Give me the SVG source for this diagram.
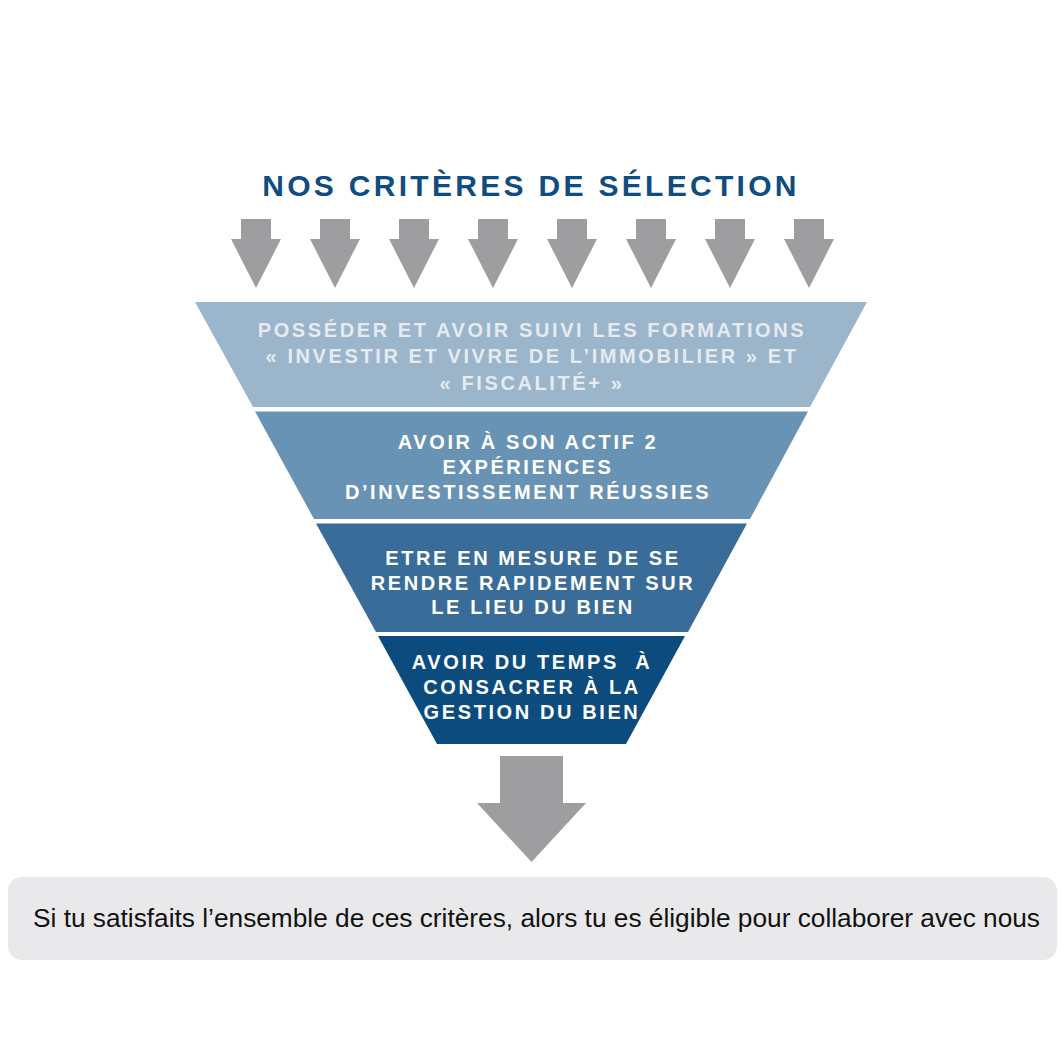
<svg xmlns="http://www.w3.org/2000/svg" xmlns:xlink="http://www.w3.org/1999/xlink" width="1064" height="1064" viewBox="0 0 1064 1064">
<style>
.title{font-family:"Liberation Sans",Arial,sans-serif;font-weight:bold;font-size:30px;letter-spacing:3.3px;fill:#0f4c7f;text-anchor:middle}
.lt{font-family:"Liberation Sans",Arial,sans-serif;font-weight:bold;font-size:20px;letter-spacing:2.6px;text-anchor:middle;fill:#ffffff}
.l1t{fill:#e6ebf0}
.arrow{fill:#9e9da0}
.note{font-family:"Liberation Sans",Arial,sans-serif;font-size:25px;fill:#111111}
</style>
<defs>
<path id="sa" d="M-15,219 H15 V239 H25 L0,288 L-25,239 H-15 Z"/>
</defs>
<rect width="1064" height="1064" fill="#ffffff"/>
<text class="title" x="531" y="196">NOS CRITÈRES DE SÉLECTION</text>
<g id="connectors" class="arrow">
<use xlink:href="#sa" x="256"/>
<use xlink:href="#sa" x="335"/>
<use xlink:href="#sa" x="414"/>
<use xlink:href="#sa" x="493"/>
<use xlink:href="#sa" x="572"/>
<use xlink:href="#sa" x="651"/>
<use xlink:href="#sa" x="730"/>
<use xlink:href="#sa" x="809"/>
<path d="M500,756 H563 V803 H586 L531.5,862 L477,803 H500 Z"/>
</g>
<g id="layer1">
<polygon points="195,302 867,302 810,407 253,407" fill="#9bb5cb"/>
<text class="lt l1t" x="532" y="337">POSSÉDER ET AVOIR SUIVI LES FORMATIONS</text>
<text class="lt l1t" x="532" y="363">« INVESTIR ET VIVRE DE L’IMMOBILIER » ET</text>
<text class="lt l1t" x="532" y="390">« FISCALITÉ+ »</text>
</g>
<g id="layer2">
<polygon points="255,411.5 808,411.5 750,519 314,519" fill="#6993b5"/>
<text class="lt" x="528" y="449">AVOIR À SON ACTIF 2</text>
<text class="lt" x="528" y="474">EXPÉRIENCES</text>
<text class="lt" x="528" y="499">D’INVESTISSEMENT RÉUSSIES</text>
</g>
<g id="layer3">
<polygon points="316,523.5 747,523.5 688,632 376,632" fill="#396c98"/>
<text class="lt" x="533" y="565">ETRE EN MESURE DE SE</text>
<text class="lt" x="533" y="590">RENDRE RAPIDEMENT SUR</text>
<text class="lt" x="533" y="614">LE LIEU DU BIEN</text>
</g>
<g id="layer4">
<polygon points="378,636 685,636 626,744 437,744" fill="#0c4b7d"/>
<text class="lt" x="532" y="669" xml:space="preserve">AVOIR DU TEMPS  À</text>
<text class="lt" x="532" y="694">CONSACRER À LA</text>
<text class="lt" x="532" y="719">GESTION DU BIEN</text>
</g>
<g id="result">
<rect x="8" y="877" width="1049" height="83" rx="14" fill="#e9e9eb"/>
<text class="note" x="33" y="927" textLength="1007" lengthAdjust="spacingAndGlyphs">Si tu satisfaits l’ensemble de ces critères, alors tu es éligible pour collaborer avec nous</text>
</g>
</svg>
